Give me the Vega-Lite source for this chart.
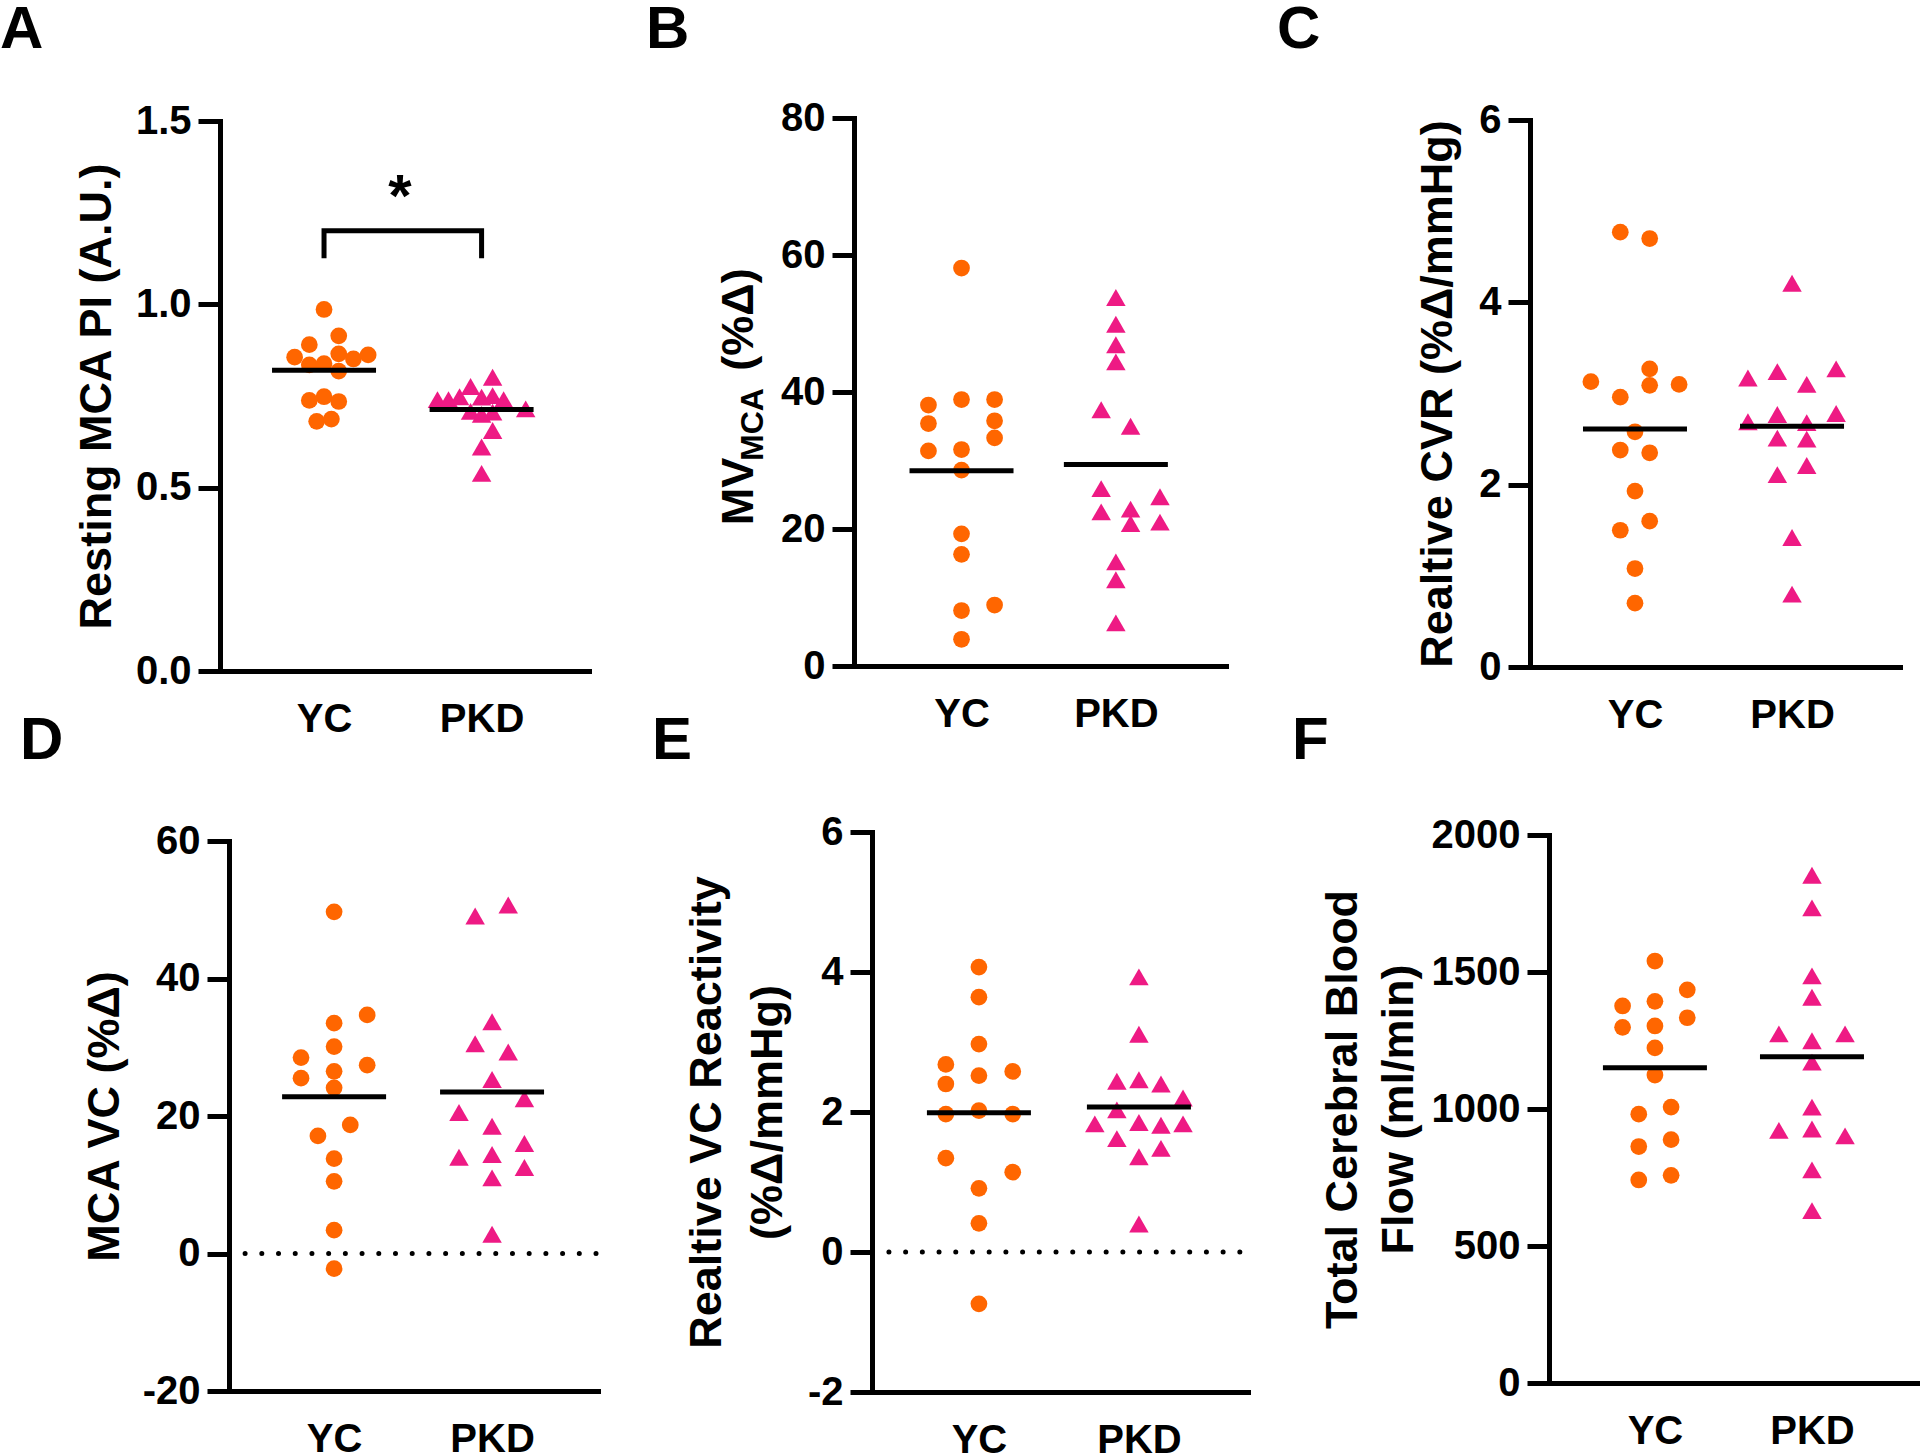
{
  "$schema": "https://vega.github.io/schema/vega-lite/v6.json",
  "padding": 0,
  "background": "white",
  "config": {
    "locale": {"number": {"decimal": ".", "thousands": ",", "grouping": [3], "currency": ["$", ""], "minus": "-"}},
    "view": {"stroke": null},
    "font": "Liberation Sans",
    "axis": {"grid": false, "domainColor": "black", "domainWidth": 5, "domainCap": "square", "tickColor": "black", "tickWidth": 5, "labelColor": "black", "labelFont": "Liberation Sans", "labelFontWeight": "bold", "labelFontSize": 40, "labelOverlap": false, "titleColor": "black", "titleFont": "Liberation Sans", "titleFontWeight": "bold", "titleFontSize": 45},
    "axisY": {"tickSize": 22, "labelPadding": 7, "titleBaseline": "alphabetic", "titleAngle": -90},
    "axisX": {"ticks": false, "tickSize": 0, "labelPadding": 28, "labelAngle": 0},
    "title": {"anchor": "start", "frame": "group", "fontSize": 60, "fontWeight": "bold", "font": "Liberation Sans", "color": "black", "baseline": "alphabetic"}
  },
  "datasets": {
    "pA": [
      {"group":"YC","value":0.986,"slot":0},{"group":"YC","value":0.914,"slot":2},{"group":"YC","value":0.890,"slot":-2},{"group":"YC","value":0.856,"slot":-4},{"group":"YC","value":0.865,"slot":2},{"group":"YC","value":0.851,"slot":4},{"group":"YC","value":0.862,"slot":6},{"group":"YC","value":0.835,"slot":-2},{"group":"YC","value":0.838,"slot":0},{"group":"YC","value":0.818,"slot":2},{"group":"YC","value":0.748,"slot":0},{"group":"YC","value":0.738,"slot":-2},{"group":"YC","value":0.735,"slot":2},{"group":"YC","value":0.681,"slot":-1},{"group":"YC","value":0.687,"slot":1},
      {"group":"PKD","value":0.740,"slot":-6},{"group":"PKD","value":0.740,"slot":-4.5},{"group":"PKD","value":0.748,"slot":-3},{"group":"PKD","value":0.776,"slot":-1.5},{"group":"PKD","value":0.801,"slot":1.5},{"group":"PKD","value":0.747,"slot":0},{"group":"PKD","value":0.751,"slot":1.5},{"group":"PKD","value":0.740,"slot":3},{"group":"PKD","value":0.715,"slot":6},{"group":"PKD","value":0.708,"slot":-1.5},{"group":"PKD","value":0.700,"slot":0},{"group":"PKD","value":0.706,"slot":1.5},{"group":"PKD","value":0.656,"slot":1.5},{"group":"PKD","value":0.611,"slot":0},{"group":"PKD","value":0.539,"slot":0}
    ],
    "mA": [{"group":"YC","value":0.820},{"group":"PKD","value":0.713}],
    "bracketA": [{"group":"YC","value":1.126,"k":1},{"group":"YC","value":1.201,"k":2},{"group":"PKD","value":1.201,"k":3},{"group":"PKD","value":1.126,"k":4}],
    "starA": [{"group":"YC","value":1.242,"label":"*"}],
    "pB": [
      {"group":"YC","value":58.1,"slot":0},{"group":"YC","value":38.1,"slot":-4.5},{"group":"YC","value":38.9,"slot":0},{"group":"YC","value":38.9,"slot":4.5},{"group":"YC","value":35.4,"slot":-4.5},{"group":"YC","value":35.8,"slot":4.5},{"group":"YC","value":31.4,"slot":-4.5},{"group":"YC","value":31.6,"slot":0},{"group":"YC","value":33.3,"slot":4.5},{"group":"YC","value":28.6,"slot":0},{"group":"YC","value":19.3,"slot":0},{"group":"YC","value":16.3,"slot":0},{"group":"YC","value":8.1,"slot":0},{"group":"YC","value":8.9,"slot":4.5},{"group":"YC","value":3.9,"slot":0},
      {"group":"PKD","value":53.8,"slot":0},{"group":"PKD","value":49.9,"slot":0},{"group":"PKD","value":46.9,"slot":0},{"group":"PKD","value":44.4,"slot":0},{"group":"PKD","value":37.4,"slot":-2},{"group":"PKD","value":35.0,"slot":2},{"group":"PKD","value":25.9,"slot":-2},{"group":"PKD","value":24.7,"slot":6},{"group":"PKD","value":22.5,"slot":-2},{"group":"PKD","value":22.9,"slot":2},{"group":"PKD","value":20.8,"slot":2},{"group":"PKD","value":21.0,"slot":6},{"group":"PKD","value":15.2,"slot":0},{"group":"PKD","value":12.6,"slot":0},{"group":"PKD","value":6.3,"slot":0}
    ],
    "mB": [{"group":"YC","value":28.5},{"group":"PKD","value":29.4}],
    "pC": [
      {"group":"YC","value":4.77,"slot":-2},{"group":"YC","value":4.70,"slot":2},{"group":"YC","value":3.13,"slot":-6},{"group":"YC","value":3.27,"slot":2},{"group":"YC","value":3.09,"slot":2},{"group":"YC","value":3.10,"slot":6},{"group":"YC","value":2.96,"slot":-2},{"group":"YC","value":2.58,"slot":0},{"group":"YC","value":2.38,"slot":-2},{"group":"YC","value":2.35,"slot":2},{"group":"YC","value":1.93,"slot":0},{"group":"YC","value":1.50,"slot":-2},{"group":"YC","value":1.60,"slot":2},{"group":"YC","value":1.08,"slot":0},{"group":"YC","value":0.70,"slot":0},
      {"group":"PKD","value":4.21,"slot":0},{"group":"PKD","value":3.17,"slot":-6},{"group":"PKD","value":3.24,"slot":-2},{"group":"PKD","value":3.10,"slot":2},{"group":"PKD","value":3.27,"slot":6},{"group":"PKD","value":2.69,"slot":-6},{"group":"PKD","value":2.77,"slot":-2},{"group":"PKD","value":2.68,"slot":2},{"group":"PKD","value":2.78,"slot":6},{"group":"PKD","value":2.51,"slot":-2},{"group":"PKD","value":2.50,"slot":2},{"group":"PKD","value":2.21,"slot":2},{"group":"PKD","value":2.11,"slot":-2},{"group":"PKD","value":1.42,"slot":0},{"group":"PKD","value":0.80,"slot":0}
    ],
    "mC": [{"group":"YC","value":2.61},{"group":"PKD","value":2.64}],
    "pD": [
      {"group":"YC","value":49.7,"slot":0},{"group":"YC","value":34.7,"slot":4.5},{"group":"YC","value":33.5,"slot":0},{"group":"YC","value":30.1,"slot":0},{"group":"YC","value":28.5,"slot":-4.5},{"group":"YC","value":27.4,"slot":4.5},{"group":"YC","value":26.5,"slot":0},{"group":"YC","value":25.5,"slot":-4.5},{"group":"YC","value":24.1,"slot":0},{"group":"YC","value":18.7,"slot":2.2},{"group":"YC","value":17.1,"slot":-2.2},{"group":"YC","value":13.8,"slot":0},{"group":"YC","value":10.5,"slot":0},{"group":"YC","value":3.4,"slot":0},{"group":"YC","value":-2.2,"slot":0},
      {"group":"PKD","value":50.7,"slot":2.2},{"group":"PKD","value":49.1,"slot":-2.3},{"group":"PKD","value":33.7,"slot":0},{"group":"PKD","value":30.5,"slot":-2.3},{"group":"PKD","value":29.3,"slot":2.2},{"group":"PKD","value":25.3,"slot":0},{"group":"PKD","value":22.5,"slot":4.4},{"group":"PKD","value":20.5,"slot":-4.5},{"group":"PKD","value":18.5,"slot":0},{"group":"PKD","value":16.0,"slot":4.4},{"group":"PKD","value":14.0,"slot":-4.5},{"group":"PKD","value":14.4,"slot":0},{"group":"PKD","value":12.5,"slot":4.4},{"group":"PKD","value":11.0,"slot":0},{"group":"PKD","value":2.8,"slot":0}
    ],
    "mD": [{"group":"YC","value":22.8},{"group":"PKD","value":23.5}],
    "pE": [
      {"group":"YC","value":4.07,"slot":0},{"group":"YC","value":3.64,"slot":0},{"group":"YC","value":2.97,"slot":0},{"group":"YC","value":2.68,"slot":-4.5},{"group":"YC","value":2.58,"slot":4.6},{"group":"YC","value":2.52,"slot":0},{"group":"YC","value":2.40,"slot":-4.5},{"group":"YC","value":2.02,"slot":0},{"group":"YC","value":1.97,"slot":-4.5},{"group":"YC","value":1.97,"slot":4.6},{"group":"YC","value":1.34,"slot":-4.5},{"group":"YC","value":1.14,"slot":4.6},{"group":"YC","value":0.91,"slot":0},{"group":"YC","value":0.41,"slot":0},{"group":"YC","value":-0.74,"slot":0},
      {"group":"PKD","value":3.93,"slot":0},{"group":"PKD","value":3.11,"slot":0},{"group":"PKD","value":2.44,"slot":-3},{"group":"PKD","value":2.46,"slot":0},{"group":"PKD","value":2.40,"slot":3},{"group":"PKD","value":2.20,"slot":6},{"group":"PKD","value":2.03,"slot":-3},{"group":"PKD","value":1.83,"slot":-6},{"group":"PKD","value":1.85,"slot":0},{"group":"PKD","value":1.81,"slot":3},{"group":"PKD","value":1.83,"slot":6},{"group":"PKD","value":1.62,"slot":-3},{"group":"PKD","value":1.48,"slot":3},{"group":"PKD","value":1.36,"slot":0},{"group":"PKD","value":0.40,"slot":0}
    ],
    "mE": [{"group":"YC","value":1.99},{"group":"PKD","value":2.07}],
    "pF": [
      {"group":"YC","value":1540,"slot":0},{"group":"YC","value":1435,"slot":4.4},{"group":"YC","value":1376,"slot":-4.4},{"group":"YC","value":1393,"slot":0},{"group":"YC","value":1333,"slot":4.4},{"group":"YC","value":1298,"slot":-4.4},{"group":"YC","value":1303,"slot":0},{"group":"YC","value":1223,"slot":0},{"group":"YC","value":1124,"slot":0},{"group":"YC","value":1007,"slot":2.2},{"group":"YC","value":981,"slot":-2.2},{"group":"YC","value":888,"slot":2.2},{"group":"YC","value":863,"slot":-2.2},{"group":"YC","value":758,"slot":2.2},{"group":"YC","value":741,"slot":-2.2},
      {"group":"PKD","value":1853,"slot":0},{"group":"PKD","value":1734,"slot":0},{"group":"PKD","value":1486,"slot":0},{"group":"PKD","value":1408,"slot":0},{"group":"PKD","value":1274,"slot":-4.5},{"group":"PKD","value":1249,"slot":0},{"group":"PKD","value":1274,"slot":4.5},{"group":"PKD","value":1171,"slot":0},{"group":"PKD","value":1007,"slot":0},{"group":"PKD","value":922,"slot":-4.5},{"group":"PKD","value":927,"slot":0},{"group":"PKD","value":902,"slot":4.5},{"group":"PKD","value":778,"slot":0},{"group":"PKD","value":629,"slot":0}
    ],
    "mF": [{"group":"YC","value":1151},{"group":"PKD","value":1191}],
    "zero": [{"value":0}]
  },
  "columns": 3,
  "align": "each",
  "bounds": "flush",
  "spacing": {"row": 161, "column": 250},
  "concat": [
    {
      "width": 384, "height": 553,
      "title": {"text": "A", "dx": -220, "offset": 40},
      "data": {"name": "pA"},
      "layer": [
        {"transform": [{"filter": "datum.group === 'YC'"}],
         "mark": {"type": "point", "shape": "circle", "filled": true, "size": 280, "color": "#ff6600", "opacity": 1, "strokeWidth": 0},
         "encoding": {
           "x": {"field": "group", "type": "nominal", "scale": {"type": "point", "domain": ["YC","PKD"], "range": [0,369], "padding": 0.671, "align": 0.492}, "axis": {"title": null}},
           "xOffset": {"field": "slot", "type": "quantitative", "scale": {"domain": [-10,10], "range": [-73.5,73.5]}},
           "y": {"field": "value", "type": "quantitative", "scale": {"domain": [0,1.5], "range": [553,3], "nice": false, "zero": false}, "axis": {"values": [0,0.5,1,1.5], "format": ".1f", "title": "Resting MCA PI (A.U.)", "titleX": -110}}
         }},
        {"transform": [{"filter": "datum.group === 'PKD'"}],
         "mark": {"type": "point", "shape": "triangle-up", "filled": true, "size": 380, "color": "#ee1a84", "opacity": 1, "strokeWidth": 0},
         "encoding": {"x": {"field": "group", "type": "nominal", "scale": {"type": "point", "domain": ["YC","PKD"], "range": [0,369], "padding": 0.671, "align": 0.492}}, "xOffset": {"field": "slot", "type": "quantitative", "scale": {"domain": [-10,10], "range": [-73.5,73.5]}}, "y": {"field": "value", "type": "quantitative"}}},
        {"data": {"name": "mA"}, "mark": {"type": "tick", "size": 104, "thickness": 5, "color": "black", "opacity": 1},
         "encoding": {"x": {"field": "group", "type": "nominal"}, "y": {"field": "value", "type": "quantitative"}}},
        {"data": {"name": "bracketA"}, "mark": {"type": "line", "color": "black", "strokeWidth": 5, "strokeJoin": "miter", "strokeCap": "butt"},
         "encoding": {"x": {"field": "group", "type": "nominal"}, "y": {"field": "value", "type": "quantitative"}, "order": {"field": "k", "type": "quantitative"}}},
        {"data": {"name": "starA"}, "mark": {"type": "text", "dx": 76, "fontSize": 60, "fontWeight": "bold", "font": "Liberation Sans", "baseline": "alphabetic", "align": "center", "color": "black"},
         "encoding": {"x": {"field": "group", "type": "nominal"}, "y": {"field": "value", "type": "quantitative"}, "text": {"field": "label"}}}
      ]
    },
    {
      "width": 426, "height": 548,
      "title": {"text": "B", "dx": -208, "offset": 37},
      "data": {"name": "pB"},
      "resolve": {"axis": {"y": "independent"}},
      "layer": [
        {"transform": [{"filter": "datum.group === 'YC'"}],
         "mark": {"type": "point", "shape": "circle", "filled": true, "size": 280, "color": "#ff6600", "opacity": 1, "strokeWidth": 0},
         "encoding": {
           "x": {"field": "group", "type": "nominal", "scale": {"type": "point", "domain": ["YC","PKD"], "range": [0,372], "padding": 0.705, "align": 0.494}, "axis": {"title": null}},
           "xOffset": {"field": "slot", "type": "quantitative", "scale": {"domain": [-10,10], "range": [-73.5,73.5]}},
           "y": {"field": "value", "type": "quantitative", "scale": {"domain": [0,80], "range": [548,0], "nice": false, "zero": false}, "axis": {"orient": "left", "values": [0,20,40,60,80], "format": "d", "title": "MV", "titleX": -102, "titleY": 373, "titleAlign": "center"}}
         }},
        {"transform": [{"filter": "datum.group === 'PKD'"}],
         "mark": {"type": "point", "shape": "triangle-up", "filled": true, "size": 380, "color": "#ee1a84", "opacity": 1, "strokeWidth": 0},
         "encoding": {"x": {"field": "group", "type": "nominal", "scale": {"type": "point", "domain": ["YC","PKD"], "range": [0,372], "padding": 0.705, "align": 0.494}}, "xOffset": {"field": "slot", "type": "quantitative", "scale": {"domain": [-10,10], "range": [-73.5,73.5]}},
           "y": {"field": "value", "type": "quantitative", "axis": {"orient": "left", "title": "MCA", "titleFontSize": 32, "titleX": -92, "titleY": 306, "titleAlign": "center", "domain": false, "ticks": false, "labels": false}}}},
        {"data": {"name": "mB"}, "mark": {"type": "tick", "size": 104, "thickness": 5, "color": "black", "opacity": 1},
         "encoding": {"x": {"field": "group", "type": "nominal"},
           "y": {"field": "value", "type": "quantitative", "axis": {"orient": "left", "title": "(%Δ)", "titleX": -102, "titleY": 201, "titleAlign": "center", "domain": false, "ticks": false, "labels": false}}}}
      ]
    },
    {
      "width": 370, "height": 549,
      "title": {"text": "C", "dx": -253, "offset": 39},
      "data": {"name": "pC"},
      "layer": [
        {"transform": [{"filter": "datum.group === 'YC'"}],
         "mark": {"type": "point", "shape": "circle", "filled": true, "size": 280, "color": "#ff6600", "opacity": 1, "strokeWidth": 0},
         "encoding": {
           "x": {"field": "group", "type": "nominal", "scale": {"type": "point", "domain": ["YC","PKD"], "range": [0,370], "padding": 0.678, "align": 0.493}, "axis": {"title": null}},
           "xOffset": {"field": "slot", "type": "quantitative", "scale": {"domain": [-10,10], "range": [-73.5,73.5]}},
           "y": {"field": "value", "type": "quantitative", "scale": {"domain": [0,6], "range": [549,2], "nice": false, "zero": false}, "axis": {"values": [0,2,4,6], "format": "d", "title": "Realtive CVR (%Δ/mmHg)", "titleX": -79}}
         }},
        {"transform": [{"filter": "datum.group === 'PKD'"}],
         "mark": {"type": "point", "shape": "triangle-up", "filled": true, "size": 380, "color": "#ee1a84", "opacity": 1, "strokeWidth": 0},
         "encoding": {"x": {"field": "group", "type": "nominal", "scale": {"type": "point", "domain": ["YC","PKD"], "range": [0,370], "padding": 0.678, "align": 0.493}}, "xOffset": {"field": "slot", "type": "quantitative", "scale": {"domain": [-10,10], "range": [-73.5,73.5]}}, "y": {"field": "value", "type": "quantitative"}}},
        {"data": {"name": "mC"}, "mark": {"type": "tick", "size": 104, "thickness": 5, "color": "black", "opacity": 1},
         "encoding": {"x": {"field": "group", "type": "nominal"}, "y": {"field": "value", "type": "quantitative"}}}
      ]
    },
    {
      "width": 384, "height": 559,
      "title": {"text": "D", "dx": -200, "offset": 49},
      "data": {"name": "pD"},
      "layer": [
        {"data": {"name": "zero"}, "mark": {"type": "rule", "color": "black", "strokeWidth": 5, "strokeCap": "round", "strokeDash": [0.01, 16.7], "xOffset": -89, "x2Offset": 104},
         "encoding": {"x": {"datum": "YC", "type": "nominal"}, "x2": {"datum": "PKD"}, "y": {"field": "value", "type": "quantitative"}}},
        {"transform": [{"filter": "datum.group === 'YC'"}],
         "mark": {"type": "point", "shape": "circle", "filled": true, "size": 280, "color": "#ff6600", "opacity": 1, "strokeWidth": 0},
         "encoding": {
           "x": {"field": "group", "type": "nominal", "scale": {"type": "point", "domain": ["YC","PKD"], "range": [9,378], "padding": 0.668, "align": 0.498}, "axis": {"title": null}},
           "xOffset": {"field": "slot", "type": "quantitative", "scale": {"domain": [-10,10], "range": [-73.5,73.5]}},
           "y": {"field": "value", "type": "quantitative", "scale": {"domain": [-20,60], "range": [559,9], "nice": false, "zero": false}, "axis": {"offset": -9, "values": [-20,0,20,40,60], "format": "d", "title": "MCA VC (%Δ)", "titleX": -111}}
         }},
        {"transform": [{"filter": "datum.group === 'PKD'"}],
         "mark": {"type": "point", "shape": "triangle-up", "filled": true, "size": 380, "color": "#ee1a84", "opacity": 1, "strokeWidth": 0},
         "encoding": {"x": {"field": "group", "type": "nominal", "scale": {"type": "point", "domain": ["YC","PKD"], "range": [9,378], "padding": 0.668, "align": 0.498}}, "xOffset": {"field": "slot", "type": "quantitative", "scale": {"domain": [-10,10], "range": [-73.5,73.5]}}, "y": {"field": "value", "type": "quantitative"}}},
        {"data": {"name": "mD"}, "mark": {"type": "tick", "size": 104, "thickness": 5, "color": "black", "opacity": 1},
         "encoding": {"x": {"field": "group", "type": "nominal"}, "y": {"field": "value", "type": "quantitative"}}}
      ]
    },
    {
      "width": 426, "height": 560,
      "title": {"text": "E", "dx": -202, "offset": 40},
      "data": {"name": "pE"},
      "layer": [
        {"data": {"name": "zero"}, "mark": {"type": "rule", "color": "black", "strokeWidth": 5, "strokeCap": "round", "strokeDash": [0.01, 16.7], "xOffset": -90, "x2Offset": 105},
         "encoding": {"x": {"datum": "YC", "type": "nominal"}, "x2": {"datum": "PKD"}, "y": {"field": "value", "type": "quantitative"}}},
        {"transform": [{"filter": "datum.group === 'YC'"}],
         "mark": {"type": "point", "shape": "circle", "filled": true, "size": 280, "color": "#ff6600", "opacity": 1, "strokeWidth": 0},
         "encoding": {
           "x": {"field": "group", "type": "nominal", "scale": {"type": "point", "domain": ["YC","PKD"], "range": [18,394], "padding": 0.675, "align": 0.495}, "axis": {"title": null}},
           "xOffset": {"field": "slot", "type": "quantitative", "scale": {"domain": [-10,10], "range": [-73.5,73.5]}},
           "y": {"field": "value", "type": "quantitative", "scale": {"domain": [-2,6], "range": [560,0], "nice": false, "zero": false}, "axis": {"offset": -18, "values": [-2,0,2,4,6], "format": "d", "title": ["Realtive VC Reactivity", "(%Δ/mmHg)"], "titleX": -152, "titleLineHeight": 61}}
         }},
        {"transform": [{"filter": "datum.group === 'PKD'"}],
         "mark": {"type": "point", "shape": "triangle-up", "filled": true, "size": 380, "color": "#ee1a84", "opacity": 1, "strokeWidth": 0},
         "encoding": {"x": {"field": "group", "type": "nominal", "scale": {"type": "point", "domain": ["YC","PKD"], "range": [18,394], "padding": 0.675, "align": 0.495}}, "xOffset": {"field": "slot", "type": "quantitative", "scale": {"domain": [-10,10], "range": [-73.5,73.5]}}, "y": {"field": "value", "type": "quantitative"}}},
        {"data": {"name": "mE"}, "mark": {"type": "tick", "size": 104, "thickness": 5, "color": "black", "opacity": 1},
         "encoding": {"x": {"field": "group", "type": "nominal"}, "y": {"field": "value", "type": "quantitative"}}}
      ]
    },
    {
      "width": 400, "height": 551,
      "title": {"text": "F", "dx": -238, "offset": 43},
      "data": {"name": "pF"},
      "layer": [
        {"transform": [{"filter": "datum.group === 'YC'"}],
         "mark": {"type": "point", "shape": "circle", "filled": true, "size": 280, "color": "#ff6600", "opacity": 1, "strokeWidth": 0},
         "encoding": {
           "x": {"field": "group", "type": "nominal", "scale": {"type": "point", "domain": ["YC","PKD"], "range": [19,400], "padding": 0.713, "align": 0.473}, "axis": {"title": null}},
           "xOffset": {"field": "slot", "type": "quantitative", "scale": {"domain": [-10,10], "range": [-73.5,73.5]}},
           "y": {"field": "value", "type": "quantitative", "scale": {"domain": [0,2000], "range": [551,3], "nice": false, "zero": false}, "axis": {"offset": -19, "values": [0,500,1000,1500,2000], "format": "d", "title": ["Total Cerebral Blood", "Flow (ml/min)"], "titleX": -193, "titleLineHeight": 56}}
         }},
        {"transform": [{"filter": "datum.group === 'PKD'"}],
         "mark": {"type": "point", "shape": "triangle-up", "filled": true, "size": 380, "color": "#ee1a84", "opacity": 1, "strokeWidth": 0},
         "encoding": {"x": {"field": "group", "type": "nominal", "scale": {"type": "point", "domain": ["YC","PKD"], "range": [19,400], "padding": 0.713, "align": 0.473}}, "xOffset": {"field": "slot", "type": "quantitative", "scale": {"domain": [-10,10], "range": [-73.5,73.5]}}, "y": {"field": "value", "type": "quantitative"}}},
        {"data": {"name": "mF"}, "mark": {"type": "tick", "size": 104, "thickness": 5, "color": "black", "opacity": 1},
         "encoding": {"x": {"field": "group", "type": "nominal"}, "y": {"field": "value", "type": "quantitative"}}}
      ]
    }
  ]
}
